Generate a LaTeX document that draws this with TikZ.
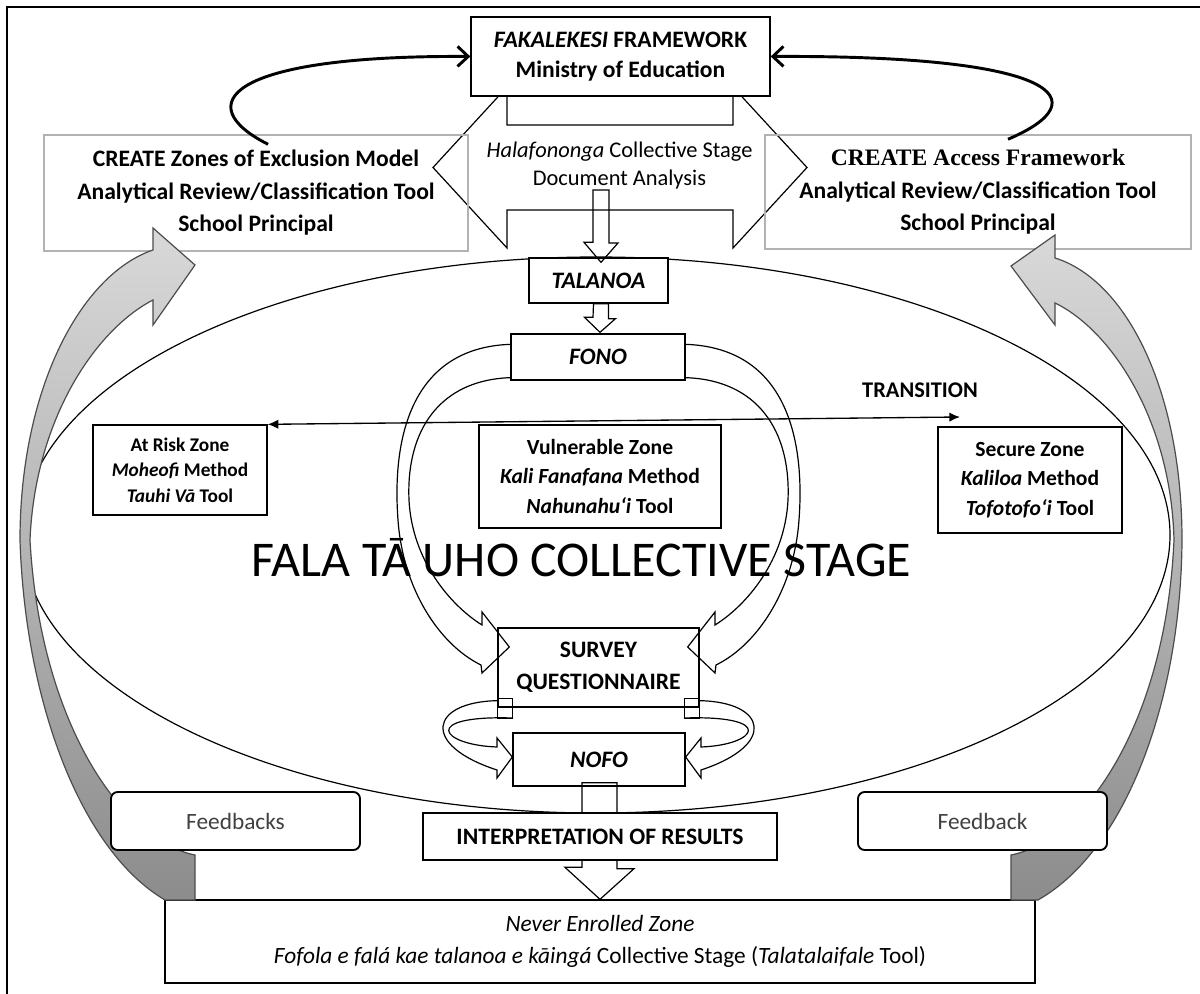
\documentclass[tikz,border=0pt]{standalone}
\usepackage{fontspec}
\setmainfont{Carlito}
\newfontfamily\timesfont{Liberation Serif}
\usetikzlibrary{arrows.meta,calc}

\tikzset{every picture/.style={line width=0.75pt}}

\begin{document}
\begin{tikzpicture}[x=0.75pt,y=0.75pt,yscale=-1,xscale=1,
	box/.style={draw, fill=white, line width=1pt, align=center, inner sep=0pt},
	greybox/.style={draw=black!30, line width=1.1pt, align=center, inner sep=0pt},
	fbbox/.style={draw, fill=white, line width=1.4pt, rounded corners=5pt, inner sep=0pt, text=black!75, font=\fontsize{17.5}{21}\selectfont},
	bigtxt/.style={font=\fontsize{17.7}{24.4}\selectfont\bfseries},
	zonetxt/.style={font=\fontsize{16.2}{22}\selectfont\bfseries},
	blockarrow/.style={draw, line width=0.9pt},
	greyband/.style={draw=black!70, line width=0.9pt, top color=black!15, bottom color=black!45},
	loopline/.style={line width=2.2pt, -{Straight Barb[length=8pt,width=15pt]}},
	trans/.style={line width=1pt, {Latex[length=8pt,width=7pt]}-{Latex[length=8pt,width=7pt]}}]
	\path[use as bounding box] (0,0) rectangle (1200,994);
	
	%Straight Lines [frame]
	\draw[line width=2.2pt] (1200,7) -- (7,7) -- (7,994) ;
	
	%Shape: Ellipse [stage]
	\draw[line width=0.9pt] (596,535) ellipse [x radius=574, y radius=278] ;
	% Text Node
	\node (stage) at (581.5,577) [anchor=base, inner sep=0pt, font=\fontsize{37.5}{45}\selectfont] {FALA TĀ UHO COLLECTIVE STAGE};
	
	%Shape: Left Right Arrow [halafononga]
	\draw[blockarrow] (433,167.5) -- (507,87) -- (507,125) -- (733,125) -- (733,87) -- (807,167.5) -- (733,248) -- (733,210) -- (507,210) -- (507,248) -- cycle ;
	% Text Node
	\node (halaf) at (619.5,166) [align=center, inner sep=0pt, font=\fontsize{16.8}{21}\selectfont] {\textit{Halafononga} Collective Stage\\Document Analysis};
	
	% Text Node
	\node (fw) at (620.5,56.5) [box, bigtxt, minimum width=224.25pt, minimum height=59.25pt, font=\fontsize{17.7}{22.5}\selectfont\bfseries] {\textit{FAKALEKESI} FRAMEWORK\\Ministry of Education};
	% Text Node
	\node (zones) at (256,193) [greybox, bigtxt, minimum width=318pt, minimum height=87pt] {CREATE Zones of Exclusion Model\\Analytical Review/Classification Tool\\School Principal};
	% Text Node
	\node (access) at (978,192) [greybox, bigtxt, minimum width=319.5pt, minimum height=85.5pt] {{\timesfont CREATE Access Framework}\\Analytical Review/Classification Tool\\School Principal};
	
	%Curve Lines [feedback to ministry]
	\draw[loopline] ($(zones.north)+(12,10)$) .. controls (190,105) and (225,55) .. (fw.west) ;
	\draw[loopline] ($(access.north)+(30,5)$) .. controls (1100,100) and (1060,55) .. (fw.east) ;
	
	% Text Node
	\node (talanoa) at (598.5,280.5) [box, bigtxt, minimum width=104.25pt, minimum height=33.75pt] {\textit{TALANOA}};
	%Shape: Down Arrow [document analysis to talanoa]
	\coordinate (dtop) at (601,190);
	\draw[blockarrow] (dtop) ++(-8,0) -- ++(16,0) -- ++(0,53) -- ++(9,0) -- ($(talanoa.north)+(2.5,5)$) -- ++(-17,-20) -- ++(9,0) -- cycle ;
	
	% Text Node
	\node (fono) at (598,357) [box, bigtxt, minimum width=130.5pt, minimum height=34.5pt] {\textit{FONO}};
	%Shape: Down Arrow [talanoa to fono]
	\draw[blockarrow] (talanoa.south) ++(-5,0) -- ++(15,0) -- ++(0,15) -- ++(7,0) -- ($(fono.north)+(2,-1)$) -- ++(-15.5,-15) -- ++(8.5,0) -- cycle ;
	
	% Text Node
	\node (survey) at (598.5,667.5) [box, bigtxt, minimum width=150.75pt, minimum height=59.25pt, font=\fontsize{17.7}{24}\selectfont\bfseries] {SURVEY\\QUESTIONNAIRE};
	
	%Shape: Circular Arrow [fono to survey, left]
	\draw[blockarrow] ($(fono.north west)+(0,11)$) .. controls (410,348) and (392,440) .. (398,520) .. controls (403,590) and (440,645) .. (481,665) -- (482,673) -- ($(survey.west)+(12,-20.5)$) -- (482,612) -- (482,625) .. controls (450,605) and (412,560) .. (409,500) .. controls (406,430) and (440,380) .. ($(fono.south west)+(0,-3)$) ;
	%Shape: Circular Arrow [fono to survey, right]
	\draw[blockarrow] ($(fono.north east)+(0,11)$) .. controls (787,348) and (805,440) .. (799,520) .. controls (794,590) and (757,645) .. (716,665) -- (715,673) -- ($(survey.east)+(-12,-20.5)$) -- (715,612) -- (715,625) .. controls (747,605) and (785,560) .. (788,500) .. controls (791,430) and (757,380) .. ($(fono.south east)+(0,-3)$) ;
	
	%Straight Lines [transition]
	\node (atrisk) at (180,470) [box, bigtxt, minimum width=130.5pt, minimum height=67.5pt, font=\fontsize{14.5}{19}\selectfont\bfseries] {At Risk Zone\\\textit{Moheofi} Method\\\textit{Tauhi Vā} Tool};
	\coordinate (trtip) at (960,417);
	\draw[trans] (atrisk.north east) -- (trtip) ;
	% Text Node
	\node (translabel) at (920,390) [inner sep=0pt, font=\fontsize{16.8}{20}\selectfont\bfseries] {TRANSITION};
	% Text Node
	\node (vuln) at (600,476.5) [box, zonetxt, minimum width=181.5pt, minimum height=77.25pt] {Vulnerable Zone\\\textit{Kali Fanafana} Method\\\textit{Nahunahu‘i} Tool};
	% Text Node
	\node (secure) at (1030,480) [box, zonetxt, minimum width=138pt, minimum height=79.5pt] {Secure Zone\\\textit{Kaliloa} Method\\\textit{Tofotofo‘i} Tool};
	
	% Text Node
	\node (nofo) at (599,759.5) [box, bigtxt, fill=none, minimum width=129pt, minimum height=39.75pt] {\textit{NOFO}};
	%Shape: Loop Arrow [survey to nofo]
	\draw[blockarrow] ($(survey.south west)+(0,-9)$) rectangle ++(15,20) ;
	\draw[blockarrow] ($(survey.south west)+(0,-7)$) .. controls (430,702) and (420,745) .. (497,770) -- (497,778) -- ($(nofo.west)+(0,-2.5)$) -- (497,738) -- (497,747) .. controls (440,745) and (420,715) .. (513,718) ;
	\draw[blockarrow] ($(survey.south east)+(-15,-9)$) rectangle ++(15,20) ;
	\draw[blockarrow] ($(survey.south east)+(0,-7)$) .. controls (767,702) and (777,745) .. (701,770) -- (701,778) -- ($(nofo.east)+(0,-2.5)$) -- (701,738) -- (701,747) .. controls (757,745) and (777,715) .. (684,718) ;
	
	% Text Node
	\node (never) at (600,941.5) [box, minimum width=652.5pt, minimum height=62.25pt, font=\fontsize{17.5}{23.5}\selectfont] {\textit{Never Enrolled Zone}\\\textit{Fofola e falá kae talanoa e kāingá} Collective Stage (\textit{Talatalaifale} Tool)};
	%Shape: Down Arrow [nofo to never enrolled]
	\draw[blockarrow] (nofo.south) ++(-17,-4) -- ++(35,0) -- ++(0,86) -- ++(17,0) -- (never.north) -- ++(-35,-32) -- ++(17,0) -- cycle ;
	% Text Node
	\node (interp) at (600,836.5) [box, bigtxt, minimum width=265.5pt, minimum height=35.25pt] {INTERPRETATION OF RESULTS};
	
	%Shape: Curved Arrow [left feedback]
	\path[greyband] (195,900) -- (195,855) .. controls (120,840) and (40,720) .. (30,540) .. controls (35,420) and (95,330) .. (153,300) -- (153,325) -- (195,265) -- (153,228) -- (153,250) .. controls (80,275) and (20,390) .. (20,540) .. controls (25,700) and (80,850) .. (165,900) -- cycle ;
	%Shape: Curved Arrow [right feedback]
	\path[greyband] (1011,900) -- (1011,855) .. controls (1086,840) and (1166,720) .. (1174,540) .. controls (1171,420) and (1111,330) .. (1055,303) -- (1055,325) -- (1011,266) -- (1055,235) -- (1055,258) .. controls (1126,280) and (1182,390) .. (1182,540) .. controls (1181,700) and (1126,850) .. (1038,900) -- cycle ;
	
	% Text Node
	\node (fbl) at (235.5,821) [fbbox, minimum width=186.75pt, minimum height=43.5pt] {Feedbacks};
	% Text Node
	\node (fbr) at (982.5,821) [fbbox, minimum width=186.75pt, minimum height=43.5pt] {Feedback};
	
\end{tikzpicture}
\end{document}
